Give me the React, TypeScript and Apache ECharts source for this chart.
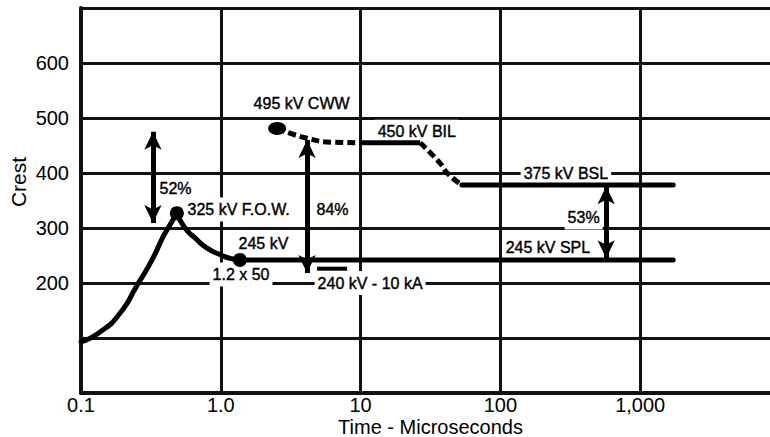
import React, { useEffect, useRef } from "react";
import * as echarts from "echarts";

const FONT = '"Liberation Sans", Arial, Helvetica, sans-serif';

// Axis ticks
const xTickLabels = ["0.1", "1.0", "10", "100", "1,000"];
const yLabeledTicks = [200, 300, 400, 500, 600];

// Impulse wave: rise to front-of-wave crest
const riseX = [0.1, 0.137, 0.19, 0.252, 0.322, 0.386, 0.42, 0.485];
const riseY = [93, 111, 145, 196, 242, 284, 300, 327];
// Decay to 1.2 x 50 level
const decayX = [0.485, 0.555, 0.654, 0.793, 1.0, 1.2, 1.37];
const decayY = [327, 300, 282, 264, 251, 244, 242];
// 245 kV SPL
const splX = [1.37, 1722];
const splY = [242, 242];
// 495 kV CWW dashed to 450 kV BIL
const cwwX = [2.53, 4.0, 6.3, 10];
const cwwY = [481, 464, 456, 455];
const bilX = [10, 26.7];
const bilY = [455, 455];
// dashed drop to 375 kV BSL
const dropX = [26.7, 37, 41.6, 53];
const dropY = [455, 418, 400, 378];
const bslX = [53, 1722];
const bslY = [378, 378];
// 240 kV - 10 kA marker
const markX = [4.88, 8.0];
const markY = [226, 226];
// dots
const dotX = [0.485, 1.37];
const dotY = [327, 242];
const cwwDot = [2.53, 481];

// Double arrows: x, from, to
const arrowX = [0.327, 4.14, 571];
const arrowFrom = [475, 460, 376];
const arrowTo = [309, 218, 245];

// Annotations
const annoText = [
  "495 kV CWW",
  "450 kV BIL",
  "375 kV BSL",
  "325 kV F.O.W.",
  "84%",
  "52%",
  "245 kV",
  "1.2 x 50",
  "240 kV - 10 kA",
  "245 kV SPL",
  "53%",
];
const annoX = [1.62, 12.5, 138.5, 0.546, 4.57, 0.344, 1.265, 0.824, 4.65, 102.9, 285.6];
const annoY = [526, 475, 400, 333.6, 333.6, 371.8, 271.8, 215.5, 200, 264.5, 319];

const zip = (xs: number[], ys: number[]) => xs.map((x, i) => [x, ys[i]]);

const lineSeries = (name: string, xs: number[], ys: number[], opts: any = {}) => ({
  name,
  type: "line",
  data: zip(xs, ys),
  symbol: "none",
  silent: true,
  z: 2,
  lineStyle: { color: "#000", width: 5, type: "solid", cap: "round", ...(opts.lineStyle || {}) },
  smooth: opts.smooth ?? false,
  ...(opts.extra || {}),
});

export default function App() {
  const ref = useRef<HTMLDivElement>(null);
  useEffect(() => {
    if (!ref.current) return;
    const chart = echarts.init(ref.current, null, { renderer: "svg" });
    const option: any = {
      animation: false,
      grid: {
        left: 81,
        right: -10,
        top: 8,
        bottom: 44,
        containLabel: false,
        outerBoundsMode: "none",
      },
      graphic: [
        {
          type: "text",
          x: 18,
          y: 182,
          rotation: Math.PI / 2,
          style: {
            text: "Crest",
            fontSize: 21,
            fontFamily: FONT,
            fill: "#000",
            align: "center",
            verticalAlign: "middle",
          },
        },
      ],
      xAxis: {
        type: "log",
        logBase: 10,
        min: 0.1,
        max: 10000,
        name: "Time - Microseconds",
        nameLocation: "middle",
        nameGap: 34,
        nameMoveOverlap: false,
        nameTextStyle: {
          fontSize: 20,
          fontFamily: FONT,
          color: "#000",
          verticalAlign: "middle",
          lineHeight: 17,
        },
        axisLine: { show: true, lineStyle: { color: "#111", width: 4 } },
        axisTick: { show: false },
        axisLabel: {
          fontSize: 20,
          fontFamily: FONT,
          color: "#000",
          margin: 3,
          lineHeight: 18,
          formatter: (v: number) => {
            const i = Math.round(Math.log10(v)) + 1;
            return i >= 0 && i < xTickLabels.length ? xTickLabels[i] : "";
          },
        },
        splitLine: { show: true, lineStyle: { color: "#111", width: 3 } },
      },
      yAxis: {
        type: "value",
        min: 0,
        max: 700,
        interval: 100,
        axisLine: { show: true, lineStyle: { color: "#111", width: 4 } },
        axisTick: { show: false },
        axisLabel: {
          fontSize: 20,
          fontFamily: FONT,
          color: "#000",
          margin: 12,
          formatter: (v: number) => (yLabeledTicks.includes(v) ? String(v) : ""),
        },
        splitLine: { show: true, lineStyle: { color: "#111", width: 3 } },
      },
      series: [
        {
          name: "labels",
          type: "scatter",
          z: 1,
          silent: true,
          symbol: "circle",
          symbolSize: 1,
          itemStyle: { color: "rgba(0,0,0,0)", opacity: 1 },
          data: annoText.map((t, i) => ({ value: [annoX[i], annoY[i]], name: t })),
          label: {
            show: true,
            position: "right",
            distance: 0,
            opacity: 1,
            formatter: (p: any) => p.name,
            fontSize: 16,
            fontFamily: FONT,
            color: "#000",
            backgroundColor: "#fff",
            padding: [4, 3, 4, 3],
            textBorderColor: "#000",
            textBorderWidth: 0.4,
          },
        },
        lineSeries("rise", riseX, riseY, { smooth: 0.6 }),
        lineSeries("decay", decayX, decayY, { smooth: 0.6 }),
        lineSeries("245 kV SPL", splX, splY),
        lineSeries("495 kV CWW", cwwX, cwwY, {
          smooth: 0.5,
          lineStyle: { type: [8, 4], cap: "butt" },
        }),
        lineSeries("450 kV BIL", bilX, bilY, { lineStyle: { cap: "butt" } }),
        lineSeries("drop", dropX, dropY, {
          smooth: 0.5,
          lineStyle: { type: [8, 4], cap: "butt" },
        }),
        lineSeries("375 kV BSL", bslX, bslY),
        lineSeries("240 kV - 10 kA", markX, markY, {
          lineStyle: { width: 4, cap: "butt" },
          extra: { z: 4 },
        }),
        {
          name: "dots",
          type: "scatter",
          z: 3,
          silent: true,
          symbolSize: 14,
          itemStyle: { color: "#000", opacity: 1 },
          data: [...zip(dotX, dotY), { value: cwwDot, symbolSize: [18, 13] }],
        },
        {
          name: "arrows",
          type: "line",
          data: [],
          z: 3,
          silent: true,
          markLine: {
            silent: true,
            symbol: ["arrow", "arrow"],
            symbolSize: [13, 18],
            label: { show: false },
            lineStyle: { color: "#000", width: 5, type: "solid", opacity: 1 },
            emphasis: { disabled: true },
            data: arrowX.map((x, i) => [
              { coord: [x, arrowFrom[i]] },
              { coord: [x, arrowTo[i]] },
            ]),
          },
        },
      ],
    };
    chart.setOption(option);
    return () => chart.dispose();
  }, []);
  return (
    <div
      ref={ref}
      style={{ position: "fixed", left: 0, top: 0, width: 770, height: 437, background: "#fff" }}
    />
  );
}
